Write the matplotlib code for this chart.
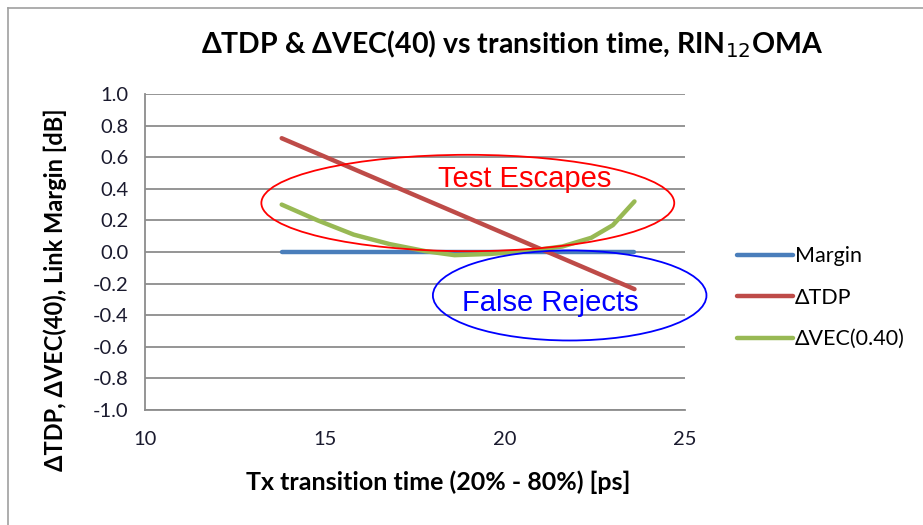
import matplotlib.pyplot as plt
from matplotlib.patches import Ellipse
from matplotlib.lines import Line2D

# data
t_margin = [13.8, 23.6]
margin = [0.0, 0.0]

t_tdp = [13.8, 23.6]
d_tdp = [0.72, -0.235]

t_vec = [13.8, 14.8, 15.8, 16.8, 17.8, 18.6, 19.6, 20.6, 21.6, 22.4, 23.0, 23.6]
d_vec = [0.30, 0.20, 0.11, 0.05, 0.005, -0.02, -0.012, 0.005, 0.035, 0.09, 0.17, 0.32]

yticks = [1.0, 0.8, 0.6, 0.4, 0.2, 0.0, -0.2, -0.4, -0.6, -0.8, -1.0]
xticks = [10, 15, 20, 25]

plt.rcParams['font.family'] = ['Lato', 'DejaVu Sans']

fig = plt.figure(figsize=(9.23, 5.25), dpi=100)
ax = fig.add_axes([0.157, 0.219, 0.585, 0.602])

ax.plot(t_margin, margin, color='#4a7ebb', lw=3.2, solid_capstyle='round', label='Margin', zorder=3)
ax.plot(t_tdp, d_tdp, color='#be4b48', lw=3.2, solid_capstyle='round', label='ΔTDP', zorder=3)
ax.plot(t_vec, d_vec, color='#98b954', lw=3.2, solid_capstyle='round', label='ΔVEC(0.40)', zorder=3)

ax.set_xlim(10, 25)
ax.set_ylim(-1.0, 1.0)
ax.set_xticks(xticks)
ax.set_yticks(yticks)
ax.set_yticklabels(['%.1f' % v for v in yticks])
ax.tick_params(length=0, labelsize=14.5, colors='#1a1a2e')
ax.tick_params(axis='y', pad=12)
ax.tick_params(axis='x', pad=15)
ax.yaxis.grid(True, color='#8c8c8c', lw=1.3)
ax.set_axisbelow(True)
for s in ['top', 'right']:
    ax.spines[s].set_visible(False)
for s in ['left', 'bottom']:
    ax.spines[s].set_color('#8c8c8c')
    ax.spines[s].set_linewidth(1.3)

ax.set_xlabel('Tx transition time (20% - 80%) [ps]', fontsize=18, fontweight='bold')
ax.set_ylabel('ΔTDP, ΔVEC(40), Link Margin [dB]', fontsize=17, fontweight='bold')
ax.xaxis.set_label_coords(0.543, -0.19)
ax.yaxis.set_label_coords(-0.145, 0.38)
fig.text(0.555, 0.915, 'ΔTDP & ΔVEC(40) vs transition time, RIN$_{12}$OMA',
         ha='center', va='center', fontsize=20.5, fontweight='bold')

# annotations
ax.add_patch(Ellipse((18.97, 0.31), 11.47, 0.61, fill=False, ec='red', lw=1.3, zorder=4))
ax.text(20.55, 0.46, 'Test Escapes', color='red', fontsize=21, ha='center', va='center',
        family=['Liberation Sans'], zorder=5)
ax.add_patch(Ellipse((21.8, -0.275), 7.6, 0.57, fill=False, ec='blue', lw=1.3,
                     clip_on=False, zorder=4))
ax.text(21.25, -0.32, 'False Rejects', color='blue', fontsize=21, ha='center', va='center',
        family=['Liberation Sans'], zorder=5)

leg = ax.legend(loc='center left', bbox_to_anchor=(1.06, 0.355), frameon=False,
                fontsize=15.5, handlelength=2.6, handletextpad=0.1, labelspacing=1.0)

# outer chart border
fig.add_artist(Line2D([8/923, 8/923], [0, 1 - 8/525], color='#a0a0a0', lw=1.2))
fig.add_artist(Line2D([8/923, 1], [1 - 8/525, 1 - 8/525], color='#a0a0a0', lw=1.2))

fig.savefig('out.png', dpi=100)
